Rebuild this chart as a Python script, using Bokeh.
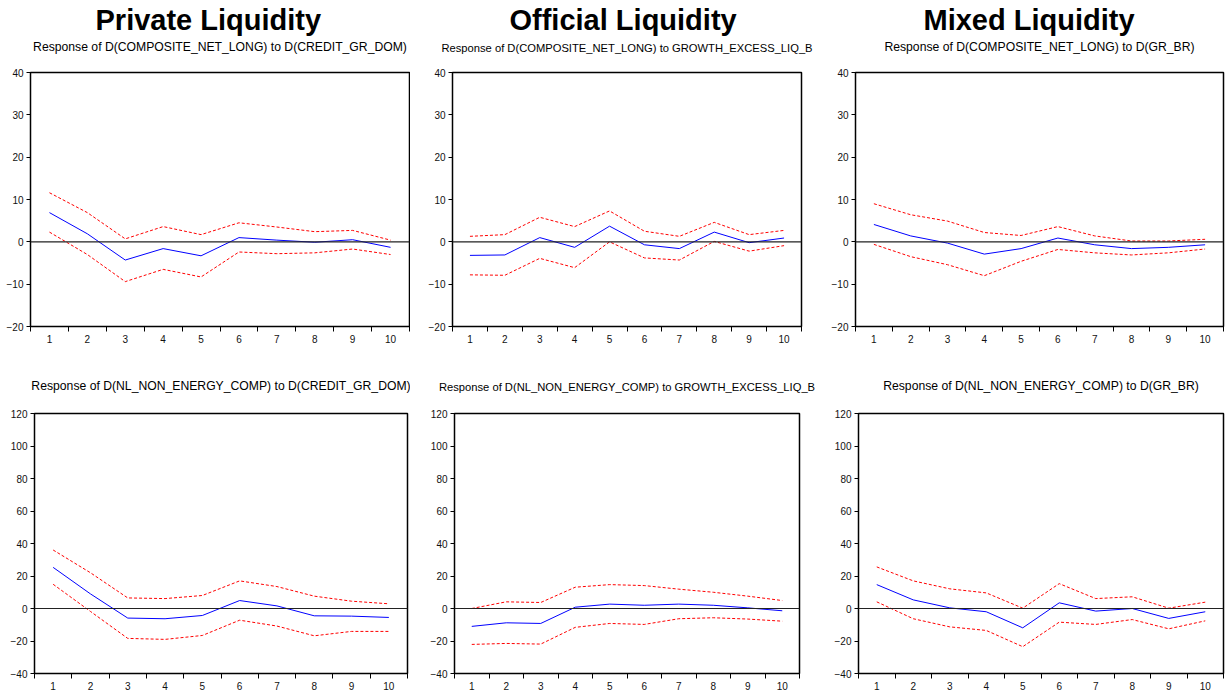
from bokeh.plotting import figure
from bokeh.layouts import column, row
from bokeh.models import Range1d, FixedTicker, Span, Title
from bokeh.embed import file_html
from bokeh.resources import INLINE

# ---------------- data ----------------
periods = list(range(1, 11))

column_titles = ["Private Liquidity", "Official Liquidity", "Mixed Liquidity"]
subtitles_top = [
    "Response of D(COMPOSITE_NET_LONG) to D(CREDIT_GR_DOM)",
    "Response of D(COMPOSITE_NET_LONG) to GROWTH_EXCESS_LIQ_B",
    "Response of D(COMPOSITE_NET_LONG) to D(GR_BR)",
]
subtitles_bottom = [
    "Response of D(NL_NON_ENERGY_COMP) to D(CREDIT_GR_DOM)",
    "Response of D(NL_NON_ENERGY_COMP) to GROWTH_EXCESS_LIQ_B",
    "Response of D(NL_NON_ENERGY_COMP) to D(GR_BR)",
]

yticks_top = [-20, -10, 0, 10, 20, 30, 40]
yticks_bottom = [-40, -20, 0, 20, 40, 60, 80, 100, 120]

# Top row: response of D(COMPOSITE_NET_LONG)
cnl_credit_resp = [6.9, 1.9, -4.3, -1.6, -3.3, 1.0, 0.4, -0.1, 0.5, -1.3]
cnl_credit_up = [11.6, 6.9, 0.7, 3.6, 1.7, 4.5, 3.5, 2.4, 2.7, 0.4]
cnl_credit_lo = [2.3, -3.0, -9.4, -6.5, -8.3, -2.4, -2.8, -2.6, -1.7, -3.0]

cnl_excess_resp = [-3.2, -3.1, 1.0, -1.3, 3.7, -0.7, -1.6, 2.3, -0.2, 0.9]
cnl_excess_up = [1.3, 1.7, 5.8, 3.6, 7.3, 2.5, 1.3, 4.6, 1.7, 2.7]
cnl_excess_lo = [-7.8, -7.9, -3.9, -6.1, 0.0, -3.8, -4.3, 0.1, -2.2, -0.9]

cnl_grbr_resp = [4.1, 1.4, -0.3, -2.9, -1.6, 0.9, -0.7, -1.6, -1.3, -0.7]
cnl_grbr_up = [9.0, 6.4, 4.9, 2.2, 1.5, 3.6, 1.4, 0.2, 0.2, 0.6]
cnl_grbr_lo = [-0.6, -3.5, -5.4, -8.0, -4.6, -1.8, -2.6, -3.1, -2.6, -1.7]

# Bottom row: response of D(NL_NON_ENERGY_COMP)
nle_credit_resp = [25.3, 9.0, -5.9, -6.3, -4.3, 4.9, 1.6, -4.5, -4.7, -5.5]
nle_credit_up = [36.0, 22.0, 6.5, 6.1, 8.0, 17.0, 13.5, 7.6, 4.5, 2.9]
nle_credit_lo = [14.9, -1.8, -18.4, -19.0, -16.6, -7.2, -10.8, -16.8, -14.1, -14.1]

nle_excess_resp = [-11.0, -8.8, -9.2, 0.8, 2.7, 2.0, 2.7, 2.0, 0.4, -1.4]
nle_excess_up = [0.0, 4.1, 3.7, 13.1, 14.7, 14.1, 11.9, 10.0, 7.6, 4.9]
nle_excess_lo = [-22.1, -21.5, -21.9, -11.6, -9.2, -9.8, -6.3, -5.7, -6.5, -7.8]

nle_grbr_resp = [14.7, 5.3, 0.4, -2.0, -11.9, 3.5, -1.6, 0.0, -6.1, -2.0]
nle_grbr_up = [25.6, 17.0, 12.1, 9.6, 0.2, 15.3, 6.1, 7.2, 0.2, 3.9]
nle_grbr_lo = [4.1, -6.3, -11.3, -13.5, -23.5, -8.4, -9.8, -6.8, -12.5, -7.6]

# ---------------- layout geometry (page pixels) ----------------
FONT = "Liberation Sans"
col_x0 = [0, 410, 818]
col_w = [410, 408, 409]
row_y0 = [0, 355]
row_h = [355, 343]
frame_left = [[30, 452, 855], [34, 454, 858]]
frame_right = [[409, 801, 1223], [407, 799, 1223]]
frame_top = [72, 412]
frame_bottom = [326, 673]
big_title_offset = [65, 57, 68]
big_title_standoff = [-34, -30, -34]
subtitle_standoff = [38, 42]
subtitle_size = ["12.2px", "11.2px", "12.2px"]


def make_panel(r, c, resp, up, lo, yticks, subtitle, big_title=None):
    x0, w = col_x0[c], col_w[c]
    y0, h = row_y0[r], row_h[r]
    fl, fr = frame_left[r][c], frame_right[r][c]
    ft, fb = frame_top[r], frame_bottom[r]
    p = figure(width=w, height=h, output_backend="svg", toolbar_location=None,
               x_range=Range1d(0.5, 10.5), y_range=Range1d(yticks[0], yticks[-1]),
               min_border_left=fl - x0, min_border_right=x0 + w - fr,
               min_border_top=ft - y0, min_border_bottom=y0 + h - fb,
               background_fill_color="white", border_fill_color="white")
    p.title.visible = False
    p.grid.visible = False
    p.outline_line_color = "black"
    p.outline_line_width = 1.5
    p.outline_line_alpha = 1.0

    xa = p.xaxis[0]
    xa.ticker = FixedTicker(ticks=periods, minor_ticks=[k + 0.5 for k in range(0, 11)])
    xa.major_tick_out = 0
    xa.major_tick_in = 0
    xa.minor_tick_out = 5
    xa.minor_tick_in = 0
    xa.minor_tick_line_color = "black"
    xa.major_label_standoff = 3
    ya = p.yaxis[0]
    ya.ticker = FixedTicker(ticks=yticks, minor_ticks=[])
    ya.major_tick_out = 4
    ya.major_tick_in = 0
    ya.major_label_standoff = 3
    for a in (xa, ya):
        a.axis_line_color = "black"
        a.major_tick_line_color = "black"
        a.major_label_text_font = FONT
        a.major_label_text_font_size = "10px"
        a.major_label_text_color = "#111111"

    p.add_layout(Span(location=0, dimension="width", line_color="#222222", line_width=1.2))
    p.line(periods, up, line_color="#FF0000", line_width=1, line_dash="3 2")
    p.line(periods, lo, line_color="#FF0000", line_width=1, line_dash="3 2")
    p.line(periods, resp, line_color="#0000FF", line_width=1)

    p.add_layout(Title(text=subtitle, align="center", text_font=FONT,
                       text_font_size=subtitle_size[c], text_font_style="normal",
                       text_color="black", standoff=subtitle_standoff[r]), "above")
    if big_title:
        p.add_layout(Title(text=big_title, align="left", offset=big_title_offset[c],
                           text_font=FONT, text_font_size="29px",
                           text_font_style="bold", text_color="black",
                           standoff=big_title_standoff[c]), "above")
    return p


p1 = make_panel(0, 0, cnl_credit_resp, cnl_credit_up, cnl_credit_lo, yticks_top,
                subtitles_top[0], column_titles[0])
p2 = make_panel(0, 1, cnl_excess_resp, cnl_excess_up, cnl_excess_lo, yticks_top,
                subtitles_top[1], column_titles[1])
p3 = make_panel(0, 2, cnl_grbr_resp, cnl_grbr_up, cnl_grbr_lo, yticks_top,
                subtitles_top[2], column_titles[2])
p4 = make_panel(1, 0, nle_credit_resp, nle_credit_up, nle_credit_lo, yticks_bottom,
                subtitles_bottom[0])
p5 = make_panel(1, 1, nle_excess_resp, nle_excess_up, nle_excess_lo, yticks_bottom,
                subtitles_bottom[1])
p6 = make_panel(1, 2, nle_grbr_resp, nle_grbr_up, nle_grbr_lo, yticks_bottom,
                subtitles_bottom[2])

layout = column(row(p1, p2, p3, spacing=0), row(p4, p5, p6, spacing=0), spacing=0)

open("out.html", "w").write(file_html(layout, INLINE))
